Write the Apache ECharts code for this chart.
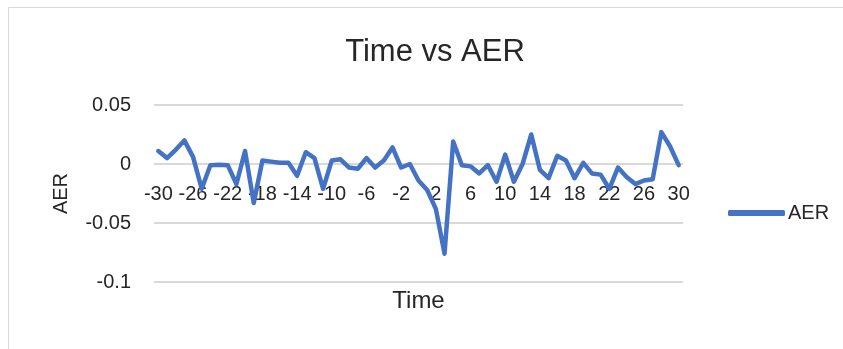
<!DOCTYPE html>
<html>
<head>
<meta charset="utf-8">
<script src="https://cdn.jsdelivr.net/npm/echarts@6/dist/echarts.min.js"></script>
<style>
html,body{margin:0;padding:0;background:#fff;}
#c{width:843px;height:349px;}
</style>
</head>
<body>
<div id="c"></div>
<script>
const titleText = 'Time vs AER';
const seriesName = 'AER';
const timeLabels = [-30,-29,-28,-27,-26,-25,-24,-23,-22,-21,-20,-19,-18,-17,-16,-15,-14,-13,-12,-11,-10,-9,-8,-7,-6,-5,-4,-3,-2,-1,0,1,2,3,4,5,6,7,8,9,10,11,12,13,14,15,16,17,18,19,20,21,22,23,24,25,26,27,28,29,30];
const aerValues = [0.011,0.005,0.012,0.020,0.006,-0.021,-0.001,-0.0006,-0.001,-0.017,0.011,-0.033,0.003,0.002,0.001,0.001,-0.010,0.010,0.005,-0.021,0.003,0.004,-0.003,-0.004,0.005,-0.003,0.003,0.014,-0.003,0.000,-0.014,-0.022,-0.038,-0.076,0.019,-0.001,-0.002,-0.008,-0.001,-0.015,0.008,-0.015,0.000,0.025,-0.005,-0.012,0.007,0.003,-0.012,0.001,-0.008,-0.009,-0.021,-0.003,-0.011,-0.017,-0.014,-0.013,0.027,0.015,-0.001];
const yTicks = {min: -0.1, max: 0.05, interval: 0.05};

const font = 'Liberation Sans, Arial, sans-serif';
const chart = echarts.init(document.getElementById('c'), null, {renderer: 'canvas'});
chart.setOption({
  animation: false,
  backgroundColor: '#fff',
  graphic: [{
    type: 'rect', silent: true,
    shape: {x: 8.5, y: 7.5, width: 900, height: 400},
    style: {fill: 'none', stroke: '#d9d9d9', lineWidth: 1}
  }],
  title: {
    text: titleText, left: 430, top: 32, textAlign: 'center',
    textStyle: {fontFamily: font, fontSize: 31, fontWeight: 'normal', color: '#262626'}
  },
  legend: {
    data: [seriesName], left: 728, top: 203, padding: 0, itemWidth: 57, itemHeight: 6, itemGap: 4,
    icon: 'roundRect',
    textStyle: {fontFamily: font, fontSize: 20, color: '#262626', padding: [0,0,0,-2]}
  },
  grid: {left: 154, right: 160, top: 105, bottom: 67, containLabel: false, outerBoundsMode: 'none'},
  xAxis: {
    type: 'category', data: timeLabels, boundaryGap: true,
    position: 'bottom', offset: -118,
    name: 'Time', nameLocation: 'middle', nameGap: 125,
    nameTextStyle: {fontFamily: font, fontSize: 24, color: '#262626'},
    axisLine: {show: false, onZero: false},
    axisTick: {show: false},
    axisLabel: {interval: 3, margin: 20, fontFamily: font, fontSize: 20, color: '#262626'},
    splitLine: {show: false}
  },
  yAxis: {
    type: 'value', min: yTicks.min, max: yTicks.max, interval: yTicks.interval,
    name: 'AER', nameLocation: 'middle', nameRotate: 90, nameGap: 83,
    nameTextStyle: {fontFamily: font, fontSize: 20, color: '#262626'},
    axisLine: {show: false}, axisTick: {show: false},
    axisLabel: {margin: 23, fontFamily: font, fontSize: 20, color: '#262626'},
    splitLine: {show: true, lineStyle: {color: '#d9d9d9', width: 2}}
  },
  series: [{
    name: seriesName, type: 'line', data: aerValues,
    showSymbol: false, symbol: 'none',
    lineStyle: {color: '#4472C4', width: 4.5, join: 'round', cap: 'round'},
    itemStyle: {color: '#4472C4'}
  }]
});
</script>
</body>
</html>
